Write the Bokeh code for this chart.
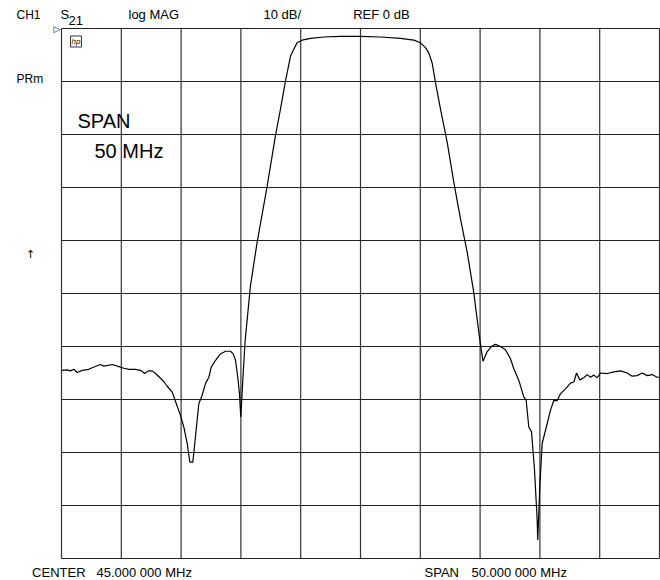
from bokeh.plotting import figure
from bokeh.models import Range1d, Label, ColumnDataSource
from bokeh.embed import file_html
from bokeh.resources import INLINE

# ---- data (frequency in MHz, S21 magnitude in dB) ----
freq_mhz = [20.0, 20.48, 20.75, 21.03, 21.31, 21.73, 22.28, 22.56, 23.26, 23.54,
            24.24, 24.93, 25.21, 25.63, 26.19, 26.61, 26.97, 27.25, 27.58, 27.86,
            28.28, 28.55, 28.84, 29.26, 29.6, 29.95, 30.23, 30.51, 30.73, 30.98,
            31.2, 31.48, 31.76, 32.04, 32.32, 32.52, 32.88, 33.29, 33.71, 34.13,
            34.36, 34.55, 34.74, 34.88, 34.99, 35.19, 35.35, 35.5, 35.8, 36.36,
            37.2, 37.89, 38.31, 38.73, 39.15, 39.42, 39.7, 40.12, 40.82, 41.93,
            43.33, 45.0, 46.67, 48.34, 49.46, 50.02, 50.43, 50.71, 50.99, 51.27,
            51.69, 52.25, 52.8, 53.36, 53.92, 54.47, 54.89, 55.09, 55.25, 55.58,
            56.0, 56.29, 56.7, 57.12, 57.54, 57.82, 58.24, 58.65, 58.85, 59.07,
            59.3, 59.55, 59.77, 59.82, 59.99, 60.19, 60.47, 60.89, 61.16, 61.45,
            61.72, 62.14, 62.56, 62.84, 63.06, 63.34, 63.67, 63.96, 64.23, 64.51,
            64.79, 65.07, 65.63, 66.18, 66.74, 67.3, 67.71, 68.13, 68.55, 68.97,
            69.38, 69.8, 70.0]
s21_db = [-64.5, -64.4, -64.6, -64.3, -64.9, -64.5, -64.3, -64.0, -63.4, -63.7,
          -63.4, -63.9, -64.1, -64.3, -64.3, -64.5, -65.1, -64.6, -64.6, -65.1,
          -66.0, -66.6, -67.5, -68.6, -70.8, -73.0, -75.2, -78.3, -81.8, -81.8,
          -77.1, -70.8, -69.2, -67.0, -65.8, -63.9, -62.6, -61.4, -60.9, -60.9,
          -61.4, -62.6, -65.8, -68.9, -73.3, -65.1, -59.0, -55.5, -48.5, -40.3,
          -29.7, -20.2, -15.2, -9.9, -5.2, -3.9, -2.7, -2.2, -1.85, -1.6,
          -1.5, -1.5, -1.6, -1.85, -2.2, -2.7, -3.6, -4.6, -6.5, -10.2,
          -15.2, -21.5, -29.0, -35.9, -42.2, -49.8, -57.3, -60.5, -62.8, -61.0,
          -59.9, -59.6, -60.0, -60.6, -62.3, -64.2, -66.4, -69.5, -70.1, -75.2,
          -76.1, -83.3, -92.7, -96.5, -86.5, -78.3, -75.8, -72.0, -70.2, -70.2,
          -68.9, -68.0, -66.9, -66.7, -65.0, -66.3, -65.9, -65.3, -65.8, -65.4,
          -65.9, -65.0, -65.1, -64.8, -64.6, -65.0, -65.6, -65.5, -65.0, -65.5,
          -65.3, -65.8, -65.8]

center_mhz = 45.0
span_mhz = 50.0
ref_db = 0.0
scale_db = 10.0
n_div = 10

f_start = center_mhz - span_mhz / 2
f_stop = center_mhz + span_mhz / 2
db_top = ref_db
db_bot = ref_db - n_div * scale_db

# graticule lines (incl. border), derived from the instrument settings
x_lines = [f_start + i * span_mhz / n_div for i in range(n_div + 1)]
y_lines = [db_top - i * scale_db for i in range(n_div + 1)]

# ---- layout: whole canvas is the plotting frame, graticule placed inside ----
W, H = 660, 580
GX0, GX1 = 61.0, 659.0   # graticule left/right in pixels
GY0, GY1 = 28.0, 558.0   # graticule top/bottom in pixels
ppx = (GX1 - GX0) / span_mhz
ppy = (GY1 - GY0) / (db_top - db_bot)
x_range = Range1d(f_start - GX0 / ppx, f_start + (W - GX0) / ppx)
y_range = Range1d(db_top - (H - GY0) / ppy, db_top + GY0 / ppy)


def px(xp):
    return f_start + (xp - GX0) / ppx


def py(yp):
    return db_top - (yp - GY0) / ppy


FONT = "Liberation Sans"

p = figure(width=W, height=H, x_range=x_range, y_range=y_range,
           x_axis_location=None, y_axis_location=None,
           toolbar_location=None, output_backend="svg",
           min_border=0)
p.background_fill_color = "white"
p.border_fill_color = "white"
p.outline_line_color = None
p.xgrid.visible = False
p.ygrid.visible = False

p.segment(x0=x_lines, y0=[db_bot] * len(x_lines), x1=x_lines, y1=[db_top] * len(x_lines),
          line_color="#333333", line_width=1.2)
p.segment(x0=[f_start] * len(y_lines), y0=y_lines, x1=[f_stop] * len(y_lines), y1=y_lines,
          line_color="#222222", line_width=1.2)

src = ColumnDataSource(data=dict(f=freq_mhz, db=s21_db))
p.line("f", "db", source=src, line_color="black", line_width=1.2)


def lab(xp, yp, text, size="12px", align="left", font=FONT, **kw):
    p.add_layout(Label(x=px(xp), y=py(yp), text=text, text_font=font,
                       text_font_size=size, text_align=align,
                       text_baseline="middle", text_color="black", **kw))


# header
lab(16, 14, "CH1")
lab(60, 14, "S", size="13px")
lab(68, 19.5, "21", size="13px")
lab(128, 14, "log MAG", size="13px")
lab(263, 14, "10 dB/", size="13px")
lab(352.7, 14, "REF 0 dB", size="13px")
lab(16, 78, "PRm")
# reference marker and logo
lab(56.5, 28, "▷", size="9px", align="center", font="DejaVu Sans")
lab(75.5, 41, "hp", size="8px", align="center",
    text_font_style="italic", border_line_color="black", border_line_width=0.8,
    padding=1)
lab(30, 254, "↑", size="11px", align="center", font="DejaVu Sans")
# span annotation
lab(77, 120, "SPAN", size="20px")
lab(94, 150.5, "50 MHz", size="20px")
# footer
lab(31.6, 572, "CENTER", size="13px")
lab(96, 572, "45.000 000 MHz", size="13px")
lab(424, 572, "SPAN", size="13px")
lab(471, 572, "50.000 000 MHz", size="13px")

open("out.html", "w").write(file_html(p, INLINE))
